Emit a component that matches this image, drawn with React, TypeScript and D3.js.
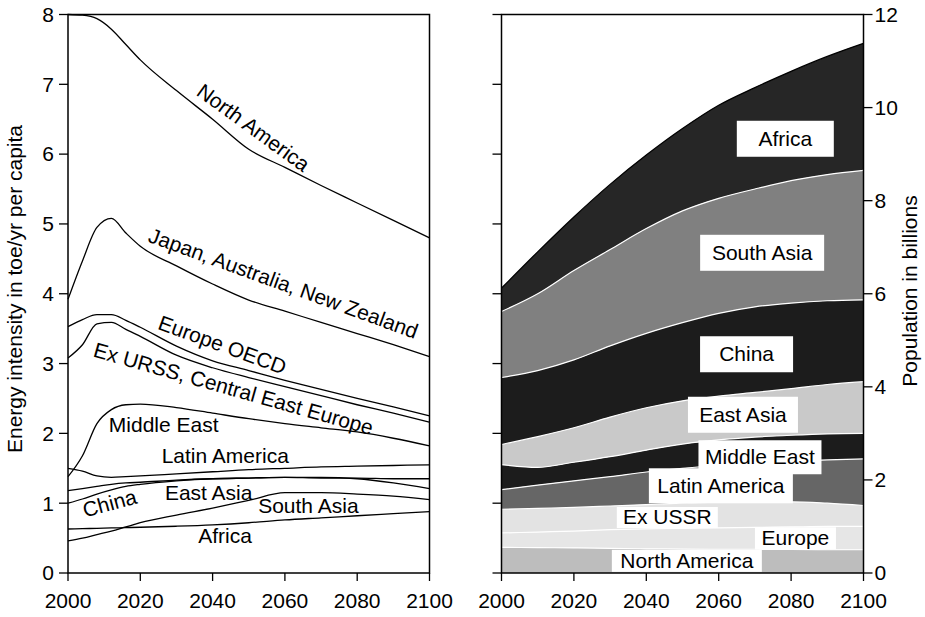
import React from 'react';
import * as d3 from 'd3';

// ---------- Left panel: energy intensity (toe/yr per capita) ----------
const yearsL = [2000, 2004, 2008, 2012, 2016, 2020, 2030, 2040, 2050, 2060, 2070, 2080, 2090, 2100];
const northAmerica = [8.0, 7.99, 7.94, 7.79, 7.57, 7.35, 6.91, 6.5, 6.07, 5.81, 5.55, 5.3, 5.05, 4.8];
const japanAusNz = [3.92, 4.47, 4.95, 5.08, 4.87, 4.68, 4.4, 4.14, 3.91, 3.75, 3.59, 3.43, 3.27, 3.1];
const europeOecd = [3.53, 3.63, 3.7, 3.7, 3.62, 3.52, 3.25, 3.04, 2.9, 2.76, 2.63, 2.5, 2.38, 2.25];
const exUrss = [3.08, 3.27, 3.57, 3.59, 3.49, 3.39, 3.12, 2.94, 2.8, 2.67, 2.54, 2.41, 2.29, 2.16];
const middleEast = [1.38, 1.68, 2.14, 2.34, 2.41, 2.42, 2.37, 2.29, 2.21, 2.14, 2.08, 2.02, 1.93, 1.82];
const latinAmerica = [1.5, 1.46, 1.39, 1.37, 1.38, 1.39, 1.42, 1.45, 1.48, 1.5, 1.52, 1.53, 1.54, 1.55];
const eastAsia = [1.18, 1.21, 1.24, 1.27, 1.29, 1.3, 1.33, 1.35, 1.36, 1.37, 1.36, 1.36, 1.35, 1.35];
const china = [1.0, 1.06, 1.13, 1.19, 1.24, 1.27, 1.32, 1.35, 1.36, 1.37, 1.37, 1.35, 1.29, 1.21];
const southAsia = [0.46, 0.5, 0.55, 0.6, 0.66, 0.72, 0.83, 0.93, 1.04, 1.15, 1.15, 1.13, 1.1, 1.05];
const africa = [0.63, 0.635, 0.64, 0.645, 0.65, 0.655, 0.67, 0.69, 0.72, 0.76, 0.79, 0.82, 0.85, 0.88];

const intensitySeries = [
  northAmerica, japanAusNz, europeOecd, exUrss, middleEast,
  latinAmerica, eastAsia, china, southAsia, africa,
];

// label placement in data units: [text, year, value, rotation, anchor]
const leftLabels: [string, number, number, number, string][] = [
  ['North America', 2051.3, 6.38, 36, 'middle'],
  ['Japan, Australia, New Zealand', 2059.6, 4.15, 20, 'middle'],
  ['Europe OECD', 2042.7, 3.27, 20, 'middle'],
  ['Ex URSS, Central East Europe', 2045.8, 2.64, 15.8, 'middle'],
  ['China', 2011.5, 1.0, -15, 'middle'],
  ['Middle East', 2011.3, 2.02, 0, 'start'],
  ['Latin America', 2025.9, 1.58, 0, 'start'],
  ['East Asia', 2026.8, 1.046, 0, 'start'],
  ['South Asia', 2052.6, 0.864, 0, 'start'],
  ['Africa', 2036.0, 0.434, 0, 'start'],
];

// ---------- Right panel: population in billions (stacked) ----------
const yearsR = [2000, 2010, 2020, 2030, 2040, 2050, 2060, 2070, 2080, 2090, 2100];
const popNorthAmerica = [0.55, 0.545, 0.54, 0.53, 0.52, 0.515, 0.51, 0.51, 0.505, 0.5, 0.5];
const popEurope = [0.31, 0.335, 0.36, 0.4, 0.43, 0.445, 0.46, 0.47, 0.485, 0.5, 0.5];
const popExUssr = [0.51, 0.51, 0.51, 0.51, 0.52, 0.54, 0.55, 0.55, 0.54, 0.5, 0.45];
const popLatinAmerica = [0.42, 0.5, 0.57, 0.63, 0.7, 0.75, 0.79, 0.83, 0.87, 0.93, 1.0];
const popMiddleEast = [0.54, 0.38, 0.4, 0.43, 0.47, 0.52, 0.55, 0.56, 0.56, 0.56, 0.55];
const popEastAsia = [0.43, 0.66, 0.74, 0.85, 0.91, 0.93, 0.94, 0.96, 1.0, 1.06, 1.11];
const popChina = [1.44, 1.42, 1.46, 1.53, 1.6, 1.68, 1.78, 1.84, 1.84, 1.8, 1.76];
const popSouthAsia = [1.42, 1.65, 1.92, 2.07, 2.25, 2.4, 2.47, 2.53, 2.63, 2.71, 2.78];
const popAfrica = [0.5, 0.9, 1.15, 1.4, 1.58, 1.77, 2.0, 2.18, 2.35, 2.54, 2.73];

const popKeys = ['North America', 'Europe', 'Ex USSR', 'Latin America', 'Middle East', 'East Asia', 'China', 'South Asia', 'Africa'];
const popSeries = [popNorthAmerica, popEurope, popExUssr, popLatinAmerica, popMiddleEast, popEastAsia, popChina, popSouthAsia, popAfrica];
const popColors = ['#bdbdbd', '#e6e6e6', '#e3e3e3', '#666666', '#1c1c1c', '#c9c9c9', '#1c1c1c', '#808080', '#262626'];

// label boxes: [text, center year, center value, box width px, box height px]
const rightLabels: [string, number, number, number, number][] = [
  ['Africa', 2078.4, 9.33, 97, 36],
  ['South Asia', 2072.0, 6.88, 124, 36],
  ['China', 2067.7, 4.7, 93, 36],
  ['East Asia', 2066.7, 3.4, 110, 36],
  ['Middle East', 2071.4, 2.487, 123, 34],
  ['Latin America', 2060.6, 1.874, 144, 35],
  ['Ex USSR', 2045.8, 1.193, 101, 21],
  ['Europe', 2081.2, 0.746, 81, 22],
  ['North America', 2051.2, 0.261, 150, 22],
];

const W = 925;
const H = 617;
const TOP = 14.5;
const BOT = 573;
const FONT = '"Liberation Sans", Arial, Helvetica, sans-serif';
const FS = 21;

const xL = d3.scaleLinear().domain([2000, 2100]).range([68, 429.5]);
const xR = d3.scaleLinear().domain([2000, 2100]).range([501.5, 863.5]);
const yL = d3.scaleLinear().domain([0, 8]).range([BOT, TOP]);
const yR = d3.scaleLinear().domain([0, 12]).range([BOT, TOP]);

export default function App() {
  const line = d3
    .line<number>()
    .x((_, i) => xL(yearsL[i]))
    .y((d) => yL(d))
    .curve(d3.curveMonotoneX);

  const table = yearsR.map((yr, i) => {
    const row: Record<string, number> = { year: yr };
    popKeys.forEach((k, j) => (row[k] = popSeries[j][i]));
    return row;
  });
  const stacked = d3.stack<Record<string, number>>().keys(popKeys)(table);
  const area = d3
    .area<d3.SeriesPoint<Record<string, number>>>()
    .x((d) => xR(d.data.year))
    .y0((d) => yR(d[0]))
    .y1((d) => yR(d[1]))
    .curve(d3.curveMonotoneX);
  const topLine = d3
    .line<d3.SeriesPoint<Record<string, number>>>()
    .x((d) => xR(d.data.year))
    .y((d) => yR(d[1]))
    .curve(d3.curveMonotoneX);

  const xTicks = xL.ticks(5);
  const yTicksL = yL.ticks(8);
  const yTicksR = yR.ticks(6);

  return (
    <svg
      width={W}
      height={H}
      style={{ position: 'absolute', left: 0, top: 0, background: '#fff' }}
      fontFamily={FONT}
      fontSize={FS}
    >
      <rect width={W} height={H} fill="#fff" />
      {/* ----- Left panel ----- */}
      <g>
        {intensitySeries.map((s, i) => (
          <path key={i} d={line(s) || ''} fill="none" stroke="#000" strokeWidth={1.3} />
        ))}
        {leftLabels.map(([t, yr, v, rot, anchor], i) => (
          <text
            key={i}
            transform={`translate(${xL(yr)},${yL(v)}) rotate(${rot})`}
            textAnchor={anchor}
            dy={anchor === 'middle' ? '0.35em' : 0}
            fill="#000"
          >
            {t}
          </text>
        ))}
        <rect x={xL(2000)} y={TOP} width={xL(2100) - xL(2000)} height={BOT - TOP} fill="none" stroke="#000" strokeWidth={1.5} />
        {yTicksL.map((t) => (
          <g key={t}>
            <line x1={xL(2000) - 9} x2={xL(2000)} y1={yL(t)} y2={yL(t)} stroke="#000" strokeWidth={1.3} />
            <text x={xL(2000) - 14} y={yL(t)} dy="0.35em" textAnchor="end">
              {t}
            </text>
          </g>
        ))}
        {xTicks.map((t) => (
          <g key={t}>
            <line x1={xL(t)} x2={xL(t)} y1={BOT} y2={BOT + 8} stroke="#000" strokeWidth={1.3} />
            <text x={xL(t)} y={608} textAnchor="middle">
              {t}
            </text>
          </g>
        ))}
        <text transform={`translate(22,289) rotate(-90)`} textAnchor="middle">
          Energy intensity in toe/yr per capita
        </text>
      </g>

      {/* ----- Right panel ----- */}
      <g>
        {stacked.map((s, i) => (
          <path key={s.key} d={area(s) || ''} fill={popColors[i]} stroke="none" />
        ))}
        {stacked.slice(0, stacked.length - 1).map((s) => (
          <path key={'b' + s.key} d={topLine(s) || ''} fill="none" stroke="#fff" strokeWidth={1.2} />
        ))}
        <path d={topLine(stacked[stacked.length - 1]) || ''} fill="none" stroke="#000" strokeWidth={1.3} />
        {rightLabels.map(([t, yr, v, w, h], i) => (
          <g key={i}>
            <rect x={xR(yr) - w / 2} y={yR(v) - h / 2} width={w} height={h} fill="#fff" />
          </g>
        ))}
        {rightLabels.map(([t, yr, v], i) => (
          <text key={'t' + i} x={xR(yr)} y={yR(v)} dy="0.33em" textAnchor="middle" fill="#000">
            {t}
          </text>
        ))}
        <rect x={xR(2000)} y={TOP} width={xR(2100) - xR(2000)} height={BOT - TOP} fill="none" stroke="#000" strokeWidth={1.5} />
        {yTicksL.map((t) => (
          <line key={'l' + t} x1={xR(2000) - 9} x2={xR(2000)} y1={yL(t)} y2={yL(t)} stroke="#000" strokeWidth={1.3} />
        ))}
        {yTicksR.map((t) => (
          <g key={'r' + t}>
            <line x1={xR(2100)} x2={xR(2100) + 9} y1={yR(t)} y2={yR(t)} stroke="#000" strokeWidth={1.3} />
            <text x={xR(2100) + 11} y={yR(t)} dy="0.35em" textAnchor="start">
              {t}
            </text>
          </g>
        ))}
        {xTicks.map((t) => (
          <g key={'x' + t}>
            <line x1={xR(t)} x2={xR(t)} y1={BOT} y2={BOT + 8} stroke="#000" strokeWidth={1.3} />
            <text x={xR(t)} y={608} textAnchor="middle">
              {t}
            </text>
          </g>
        ))}
        <text transform={`translate(917,291) rotate(-90)`} textAnchor="middle">
          Population in billions
        </text>
      </g>
    </svg>
  );
}
